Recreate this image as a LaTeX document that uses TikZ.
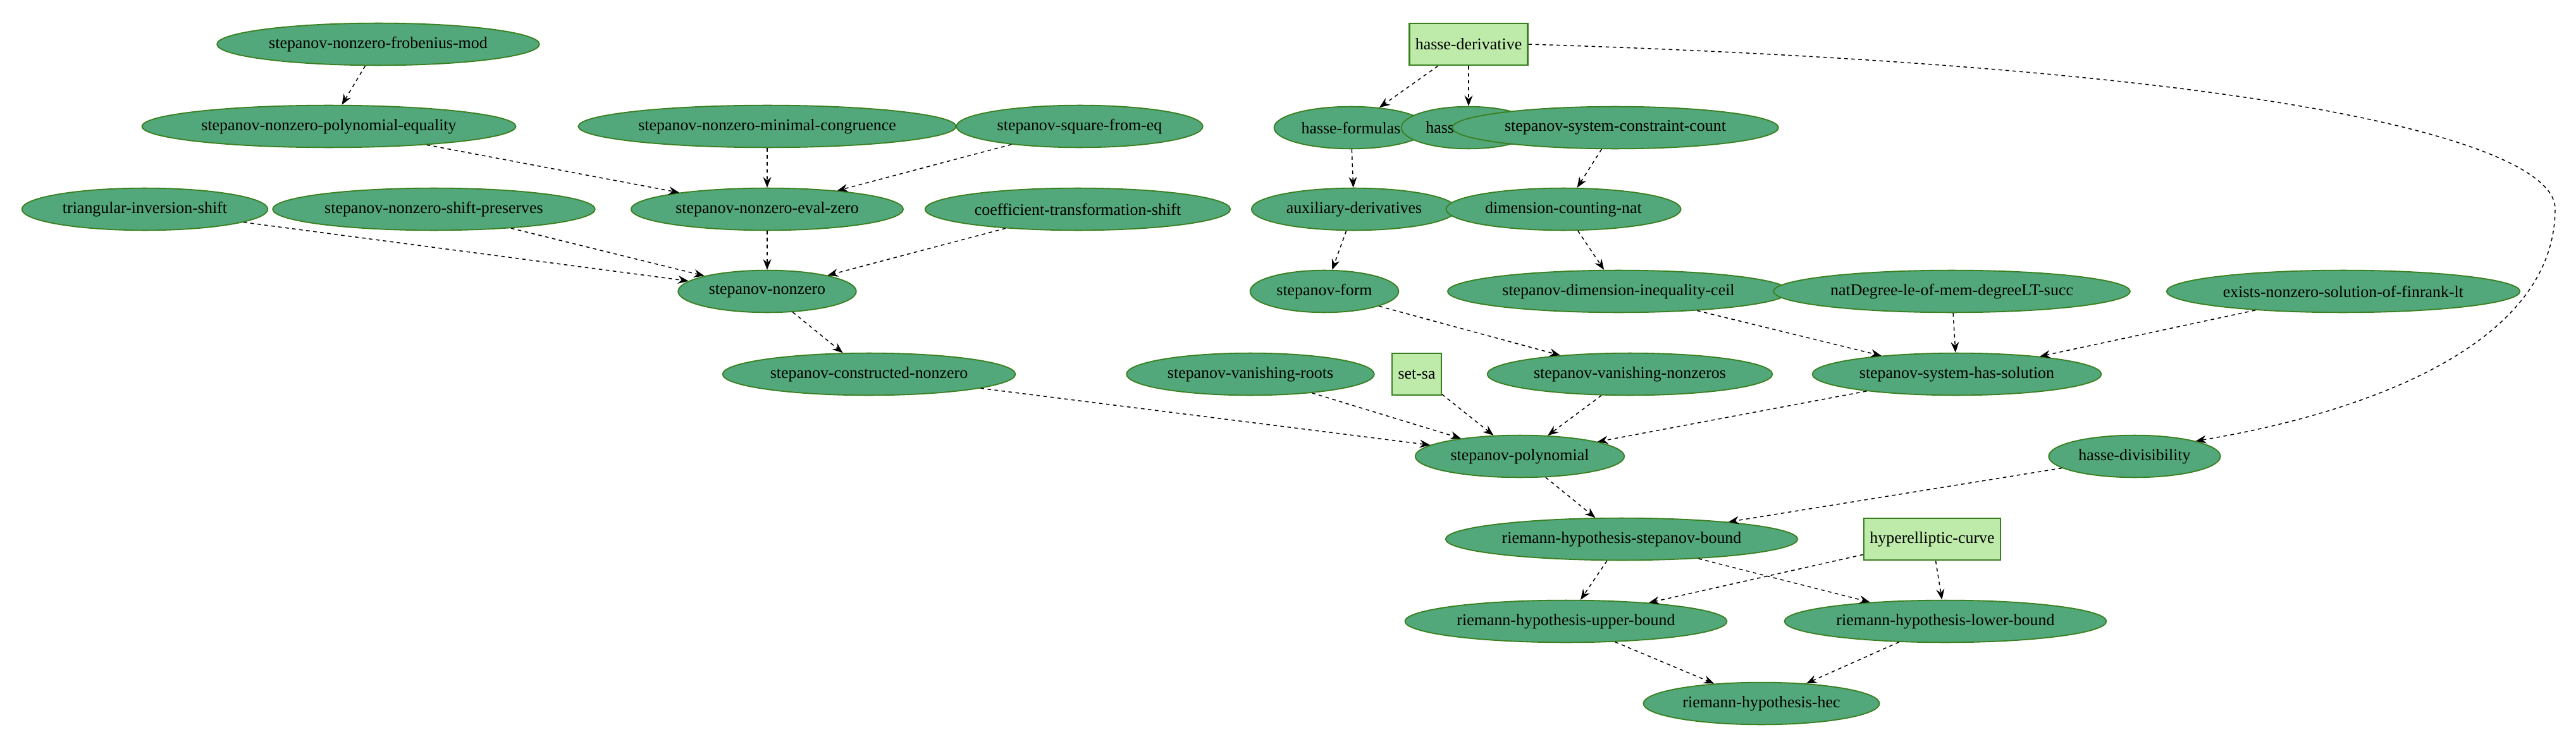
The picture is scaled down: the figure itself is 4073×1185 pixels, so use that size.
\documentclass[tikz,border=0pt]{standalone}
\usepackage{fontspec}
\setmainfont{Liberation Serif}
\usepackage{tikz}
\usetikzlibrary{shapes.geometric, arrows.meta}
\definecolor{leaf}{RGB}{82, 168, 122}
\definecolor{rim}{RGB}{58, 128, 32}
\definecolor{pale}{RGB}{190, 235, 170}

\begin{document}
\begin{tikzpicture}[x=0.54pt, y=-0.54pt,
  thm/.style={ellipse, draw=rim, fill=leaf, line width=1pt, inner xsep=4pt,
    inner ysep=5pt, minimum height=36pt, font=\fontsize{14}{16}\selectfont},
  def/.style={rectangle, draw=rim, fill=pale, line width=1.2pt, inner xsep=5pt,
    minimum height=36pt, font=\fontsize{14}{16}\selectfont},
  dep/.style={-{Stealth[length=9pt, width=7pt, inset=3pt]}, dashed, line width=0.8pt}]

  \useasboundingbox (0, 0) rectangle (4073, 1185);

  % left cluster
  \node[thm] (frob)  at (598, 70)   {stepanov-nonzero-frobenius-mod};
  \node[thm] (peq)   at (520, 200)  {stepanov-nonzero-polynomial-equality};
  \node[thm] (mcong) at (1213, 200) {stepanov-nonzero-minimal-congruence};
  \node[thm] (sqeq)  at (1707, 200) {stepanov-square-from-eq};
  \node[thm] (tri)   at (229, 331)  {triangular-inversion-shift};
  \node[thm] (spres) at (686, 331)  {stepanov-nonzero-shift-preserves};
  \node[thm] (evz)   at (1213, 331) {stepanov-nonzero-eval-zero};
  \node[thm] (coef)  at (1704, 331) {coefficient-transformation-shift};
  \node[thm] (nz)    at (1213, 461) {stepanov-nonzero};
  \node[thm] (cnz)   at (1374, 592) {stepanov-constructed-nonzero};

  % right cluster
  \node[def] (hder)  at (2322, 70)  {hasse-derivative};
  \node[thm] (hform) at (2136, 202) {hasse-formulas};
  \node[thm] (hleib) at (2322, 202) {hasse-leibniz};
  \node[thm] (ccnt)  at (2554, 202) {stepanov-system-constraint-count};
  \node[thm] (aux)   at (2141, 331) {auxiliary-derivatives};
  \node[thm] (dcn)   at (2472, 331) {dimension-counting-nat};
  \node[thm] (sform) at (2094, 461) {stepanov-form};
  \node[thm] (ceil)  at (2559, 461) {stepanov-dimension-inequality-ceil};
  \node[thm] (ndeg)  at (3086, 461) {natDegree-le-of-mem-degreeLT-succ};
  \node[thm] (exnz)  at (3705, 461) {exists-nonzero-solution-of-finrank-lt};
  \node[thm] (vroot) at (1977, 592) {stepanov-vanishing-roots};
  \node[def] (sa)    at (2240, 592) {set-sa};
  \node[thm] (vnz)   at (2577, 592) {stepanov-vanishing-nonzeros};
  \node[thm] (sys)   at (3094, 592) {stepanov-system-has-solution};

  % bottom
  \node[thm] (spol)  at (2403, 722) {stepanov-polynomial};
  \node[thm] (hdiv)  at (3375, 722) {hasse-divisibility};
  \node[thm] (rhsb)  at (2564, 853) {riemann-hypothesis-stepanov-bound};
  \node[def] (hyp)   at (3055, 853) {hyperelliptic-curve};
  \node[thm] (rhu)   at (2476, 983) {riemann-hypothesis-upper-bound};
  \node[thm] (rhl)   at (3076, 983) {riemann-hypothesis-lower-bound};
  \node[thm] (hec)   at (2785, 1113) {riemann-hypothesis-hec};

  \draw[dep] (frob) -- (peq);
  \draw[dep] (peq) -- (evz);
  \draw[dep] (mcong) -- (evz);
  \draw[dep] (sqeq) -- (evz);
  \draw[dep] (tri) -- (nz);
  \draw[dep] (spres) -- (nz);
  \draw[dep] (evz) -- (nz);
  \draw[dep] (coef) -- (nz);
  \draw[dep] (nz) -- (cnz);
  \draw[dep] (cnz) -- (spol);

  \draw[dep] (hder) -- (hform);
  \draw[dep] (hder) -- (hleib);
  \draw[dep] (hder.east) .. controls (3700, 110) and (4040, 240) .. (4040, 330)
    .. controls (4040, 560) and (3700, 660) .. (hdiv.north east);
  \draw[dep] (hform) -- (aux);
  \draw[dep] (aux) -- (sform);
  \draw[dep] (sform) -- (vnz);
  \draw[dep] (ccnt) -- (dcn);
  \draw[dep] (dcn) -- (ceil);
  \draw[dep] (ceil) -- (sys);
  \draw[dep] (ndeg) -- (sys);
  \draw[dep] (exnz) -- (sys);
  \draw[dep] (vroot) -- (spol);
  \draw[dep] (sa) -- (spol);
  \draw[dep] (vnz) -- (spol);
  \draw[dep] (sys) -- (spol);

  \draw[dep] (spol) -- (rhsb);
  \draw[dep] (hdiv) -- (rhsb);
  \draw[dep] (rhsb) -- (rhu);
  \draw[dep] (rhsb) -- (rhl);
  \draw[dep] (hyp) -- (rhu);
  \draw[dep] (hyp) -- (rhl);
  \draw[dep] (rhu) -- (hec);
  \draw[dep] (rhl) -- (hec);

\end{tikzpicture}
\end{document}
